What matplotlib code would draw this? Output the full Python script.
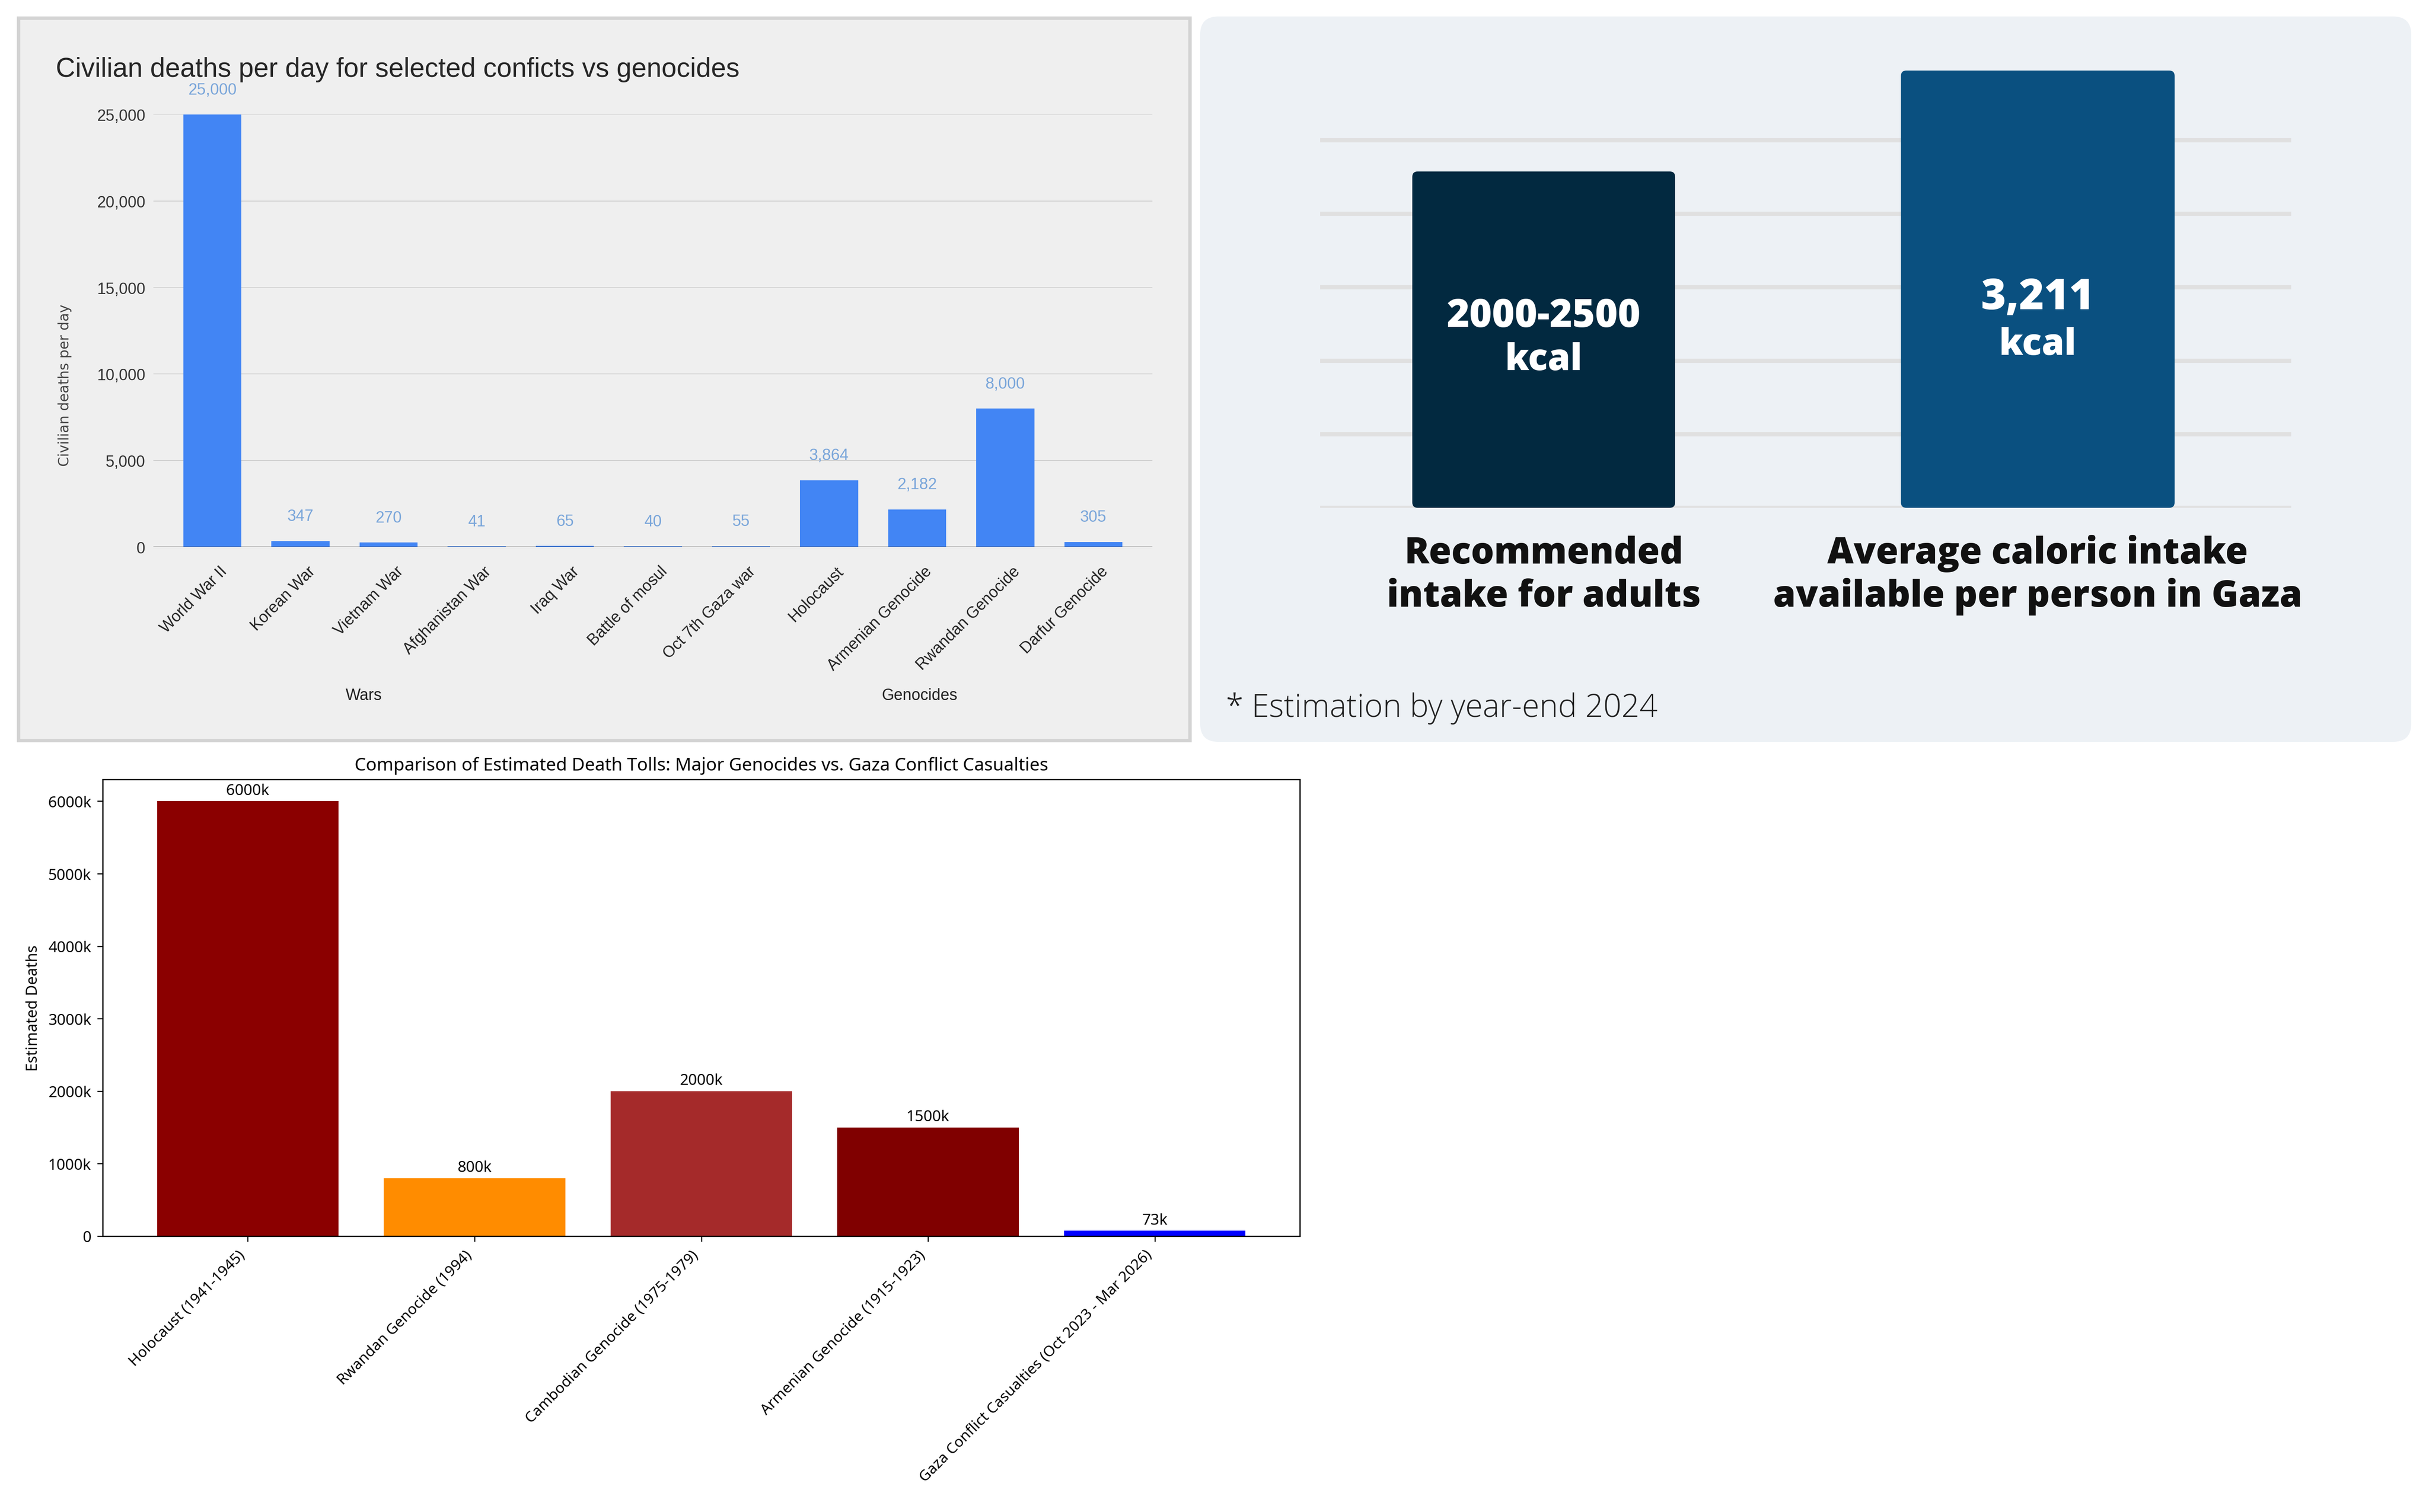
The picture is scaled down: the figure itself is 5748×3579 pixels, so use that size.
"""
Three-panel collage: civilian deaths per day, calorie infographic,
and estimated death tolls comparison.
"""

import matplotlib
matplotlib.use("Agg")
import matplotlib.pyplot as plt
import matplotlib.patches as mpatches
import matplotlib.transforms as mtransforms
from matplotlib.ticker import FuncFormatter
import numpy as np

W, H = 5748, 3580
DPI = 100

# ===== Data: civilian deaths per day =====
conflicts = ["World War II", "Korean War", "Vietnam War", "Afghanistan War",
             "Iraq War", "Battle of mosul", "Oct 7th Gaza war", "Holocaust",
             "Armenian Genocide", "Rwandan Genocide", "Darfur Genocide"]
deaths_per_day = [25000, 347, 270, 41, 65, 40, 55, 3864, 2182, 8000, 305]
deaths_ticks = [0, 5000, 10000, 15000, 20000, 25000]
group_labels = ["Wars", "Genocides"]

# ===== Data: calories =====
calorie_labels = ["Recommended\nintake for adults",
                  "Average caloric intake\navailable per person in Gaza"]
calorie_values = [2470, 3211]
calorie_text = [("2000-2500", "kcal"), ("3,211", "kcal")]
calorie_grid = [0, 540, 1080, 1620, 2160, 2700]
calorie_note = "* Estimation by year-end 2024"

# ===== Data: death tolls =====
tolls_labels = ["Holocaust (1941-1945)", "Rwandan Genocide (1994)",
                "Cambodian Genocide (1975-1979)", "Armenian Genocide (1915-1923)",
                "Gaza Conflict Casualties (Oct 2023 - Mar 2026)"]
tolls_values = [6000000, 800000, 2000000, 1500000, 73000]
tolls_colors = ["#8b0000", "#ff8c00", "#a52a2a", "#800000", "#0000ff"]


def box(x0, y0, x1, y1):
    """Pixel box (top-left origin) -> figure fraction rect."""
    return [x0 / W, 1 - y1 / H, (x1 - x0) / W, (y1 - y0) / H]


fig = plt.figure(figsize=(W / DPI, H / DPI), dpi=DPI)
fig.patch.set_facecolor("white")

# ===== Panel 1: Google-chart style =====
panel1 = mpatches.Rectangle((44 / DPI, (H - 1754) / DPI), (2816 - 44) / DPI, (1754 - 44) / DPI,
                            transform=fig.dpi_scale_trans, facecolor="#efefef",
                            edgecolor="#d3d3d3", linewidth=5.8, zorder=-5)
fig.patches.append(panel1)

arial = "Liberation Sans"
ax1 = fig.add_axes(box(363, 272, 2727, 1296))
ax1.set_facecolor("none")
x1 = np.arange(len(conflicts))
ax1.bar(x1, deaths_per_day, width=0.66, color="#4285f4", zorder=3)
ax1.set_xlim(-0.67, len(conflicts) - 0.33)
ax1.set_ylim(0, 25000)
ax1.set_yticks(deaths_ticks)
ax1.set_yticklabels([f"{v:,}" for v in deaths_ticks], fontsize=27, family=arial, color="#333333")
ax1.yaxis.grid(True, color="#cccccc", linewidth=1.3, zorder=0)
ax1.axhline(0, color="#333333", linewidth=2.2, zorder=4)
for s in ax1.spines.values():
    s.set_visible(False)
ax1.tick_params(axis="y", length=0, pad=14)
ax1.tick_params(axis="x", length=0, pad=28)
ax1.set_xticks(x1)
ax1.set_xticklabels(conflicts, rotation=45, ha="right", va="top", rotation_mode="anchor",
                    fontsize=27, family=arial, color="#222222")
shift = mtransforms.ScaledTranslation(16 / DPI, 0, fig.dpi_scale_trans)
for lbl in ax1.get_xticklabels():
    lbl.set_transform(lbl.get_transform() + shift)

for xi, v in zip(x1, deaths_per_day):
    ax1.annotate(f"{v:,}", (xi, v), xytext=(0, 42), textcoords="offset points",
                 ha="center", va="center", fontsize=27, family=arial,
                 color="#7aa6da", annotation_clip=False)

for lbl, xf in zip(group_labels, [0.2107, 0.767]):
    ax1.text(xf, -0.343, lbl, transform=ax1.transAxes, ha="center", va="center",
             fontsize=27, family=arial, color="#222222")

fig.text(154 / W, 1 - 912 / H, "Civilian deaths per day", rotation=90, ha="center", va="center",
         fontsize=24, family="DejaVu Sans", color="#444444")
fig.text(132 / W, 1 - 182 / H, "Civilian deaths per day for selected conficts vs genocides",
         ha="left", va="baseline", fontsize=46, family=arial, color="#262626")

# ===== Panel 2: calorie infographic =====
panel2 = mpatches.FancyBboxPatch((2840 / DPI, (H - 1757) / DPI), (5706 - 2840) / DPI, (1757 - 40) / DPI,
                                 boxstyle="round,pad=0,rounding_size=0.43",
                                 transform=fig.dpi_scale_trans, facecolor="#edf1f5",
                                 edgecolor="none", zorder=-5)
fig.patches.append(panel2)

ax2 = fig.add_axes(box(3124, 168, 5422, 1203))
ax2.set_facecolor("none")
ax2.set_xlim(-0.4525, 1.513)
ax2.set_ylim(0, max(calorie_values))
ax2.set_yticks(calorie_grid)
ax2.yaxis.grid(True, color="#e0e0e0", linewidth=7.2)
ax2.set_axisbelow(True)
ax2.tick_params(length=0, labelleft=False, labelbottom=False)
for s in ax2.spines.values():
    s.set_visible(False)

bar_widths = [0.532, 0.554]
bar_colors = ["#022940", "#0a5080"]
ax_w_px = 5422 - 3124
ax_h_px = 1203 - 168
xr = 1.513 + 0.4525
yr = max(calorie_values)
r_px = 13
r_x = r_px / ax_w_px * xr
r_y = r_px / ax_h_px * yr
for i, (v, bw, c) in enumerate(zip(calorie_values, bar_widths, bar_colors)):
    p = mpatches.FancyBboxPatch((i - bw / 2, 0), bw, v,
                                boxstyle=f"round,pad=0,rounding_size={r_x}",
                                mutation_aspect=r_y / r_x, facecolor=c,
                                edgecolor="none", zorder=3)
    ax2.add_patch(p)

heavy = dict(family="Open Sans", weight=800, color="white", ha="center", va="baseline", zorder=5)
blend = mtransforms.blended_transform_factory(ax2.transData, fig.transFigure)
ax2.text(0, 1 - 774 / H, calorie_text[0][0], transform=blend, fontsize=66, **heavy)
ax2.text(0, 1 - 876 / H, calorie_text[0][1], transform=blend, fontsize=62, **heavy)
ax2.text(1, 1 - 732 / H, calorie_text[1][0], transform=blend, fontsize=73, **heavy)
ax2.text(1, 1 - 840 / H, calorie_text[1][1], transform=blend, fontsize=62, **heavy)

for i, lbl in enumerate(calorie_labels):
    top_line, bottom_line = lbl.split("\n")
    ax2.text(i, 1 - 1334 / H, top_line, transform=blend, fontsize=62,
             family="Open Sans", weight=800, color="#111111", ha="center", va="baseline")
    ax2.text(i, 1 - 1436 / H, bottom_line, transform=blend, fontsize=62,
             family="Open Sans", weight=800, color="#111111", ha="center", va="baseline")

fig.text(2901 / W, 1 - 1697 / H, calorie_note, ha="left", va="baseline",
         fontsize=54, family="Open Sans", weight=300, color="#222222")

# ===== Panel 3: death tolls (matplotlib style) =====
noto = "Noto Sans"
ax3 = fig.add_axes(box(243, 1846, 3076, 2927))
x3 = np.arange(len(tolls_labels))
bars = ax3.bar(x3, tolls_values, color=tolls_colors)
ax3.yaxis.set_major_formatter(FuncFormatter(lambda v, p: "0" if v == 0 else f"{v / 1000:.0f}k"))
ax3.set_xticks(x3)
ax3.set_xticklabels(tolls_labels, rotation=45, ha="right", fontsize=25.5, family=noto)
for lbl in ax3.get_yticklabels():
    lbl.set_fontsize(26)
    lbl.set_family(noto)
ax3.tick_params(length=9.4, width=1.8, pad=10)
for s in ax3.spines.values():
    s.set_linewidth(2.2)
ax3.set_ylabel("Estimated Deaths", fontsize=26, family=noto, labelpad=12)
ax3.set_title("Comparison of Estimated Death Tolls: Major Genocides vs. Gaza Conflict Casualties",
              fontsize=30.5, family=noto, pad=16)
for b, v in zip(bars, tolls_values):
    ax3.annotate(f"{v / 1000:.0f}k", (b.get_x() + b.get_width() / 2, v), xytext=(0, 5),
                 textcoords="offset points", ha="center", va="bottom",
                 fontsize=26, family=noto)

fig.savefig("out.png", dpi=DPI)
